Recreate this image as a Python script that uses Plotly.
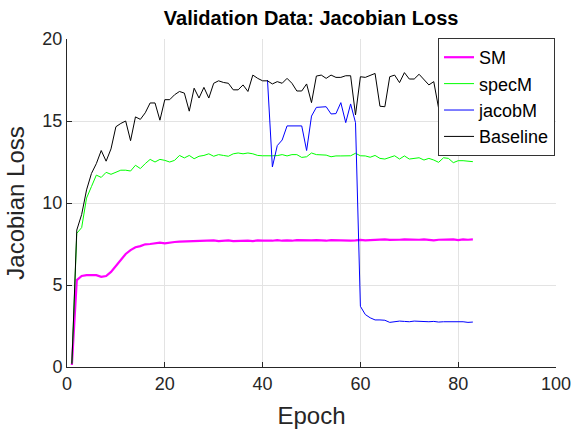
import plotly.graph_objects as go

# Jacobian loss per epoch
sm_loss = [
    0.12, 5.3, 5.55, 5.6, 5.6, 5.6, 5.5, 5.55, 5.8, 6.16,
    6.52, 6.89, 7.13, 7.3, 7.37, 7.48, 7.5, 7.54, 7.58, 7.54,
    7.6, 7.62, 7.65, 7.66, 7.66, 7.68, 7.66, 7.7, 7.68, 7.72,
    7.68, 7.7, 7.72, 7.68, 7.7, 7.72, 7.7, 7.68, 7.72, 7.7,
    7.68, 7.7, 7.74, 7.7, 7.72, 7.7, 7.74, 7.72, 7.7, 7.72,
    7.74, 7.72, 7.7, 7.74, 7.72, 7.74, 7.72, 7.7, 7.72, 7.75,
    7.72, 7.74, 7.72, 7.74, 7.78, 7.75, 7.74, 7.76, 7.78, 7.76,
    7.74, 7.76, 7.78, 7.76, 7.72, 7.76, 7.78, 7.76, 7.78, 7.74,
    7.78, 7.76, 7.78,
]
specm_loss = [
    0.2, 8.15, 8.5, 10.3, 11.0, 11.7, 11.56, 11.87, 11.75, 11.87,
    12.0, 12.0, 11.95, 12.3, 12.1, 12.4, 12.66, 12.5, 12.66, 12.6,
    12.5, 12.6, 12.9, 12.75, 12.9, 12.7, 12.85, 12.9, 13.0, 12.85,
    12.95, 12.9, 12.85, 13.0, 13.05, 13.0, 13.05, 13.0, 12.9, 12.88,
    12.9, 12.88, 12.89, 12.95, 12.87, 12.95, 12.95, 12.78, 12.82, 13.05,
    12.95, 12.92, 12.92, 12.82, 12.87, 12.87, 12.88, 12.88, 13.03, 12.88,
    12.87, 12.79, 12.9, 12.72, 12.68, 12.79, 12.88, 12.68, 12.87, 12.68,
    12.7, 12.76, 12.62, 12.72, 12.62, 12.48, 12.76, 12.72, 12.46, 12.58,
    12.58, 12.56, 12.52,
]
jacobm_start = 41
jacobm_loss = [
    17.5, 12.2, 13.5, 13.84, 14.7, 14.7, 14.7, 14.7, 13.2, 15.3,
    15.83, 15.87, 15.87, 15.43, 15.45, 16.12, 14.9, 16.04, 14.9, 3.7,
    3.2, 3.0, 2.87, 2.87, 2.85, 2.72, 2.78, 2.8, 2.78, 2.76,
    2.8, 2.78, 2.76, 2.76, 2.78, 2.74, 2.76, 2.76, 2.74, 2.78,
    2.76, 2.72, 2.74,
]
baseline_loss = [
    0.2, 8.35, 9.3, 10.8, 11.8, 12.4, 13.2, 12.55, 13.3, 14.65,
    14.85, 15.0, 13.8, 15.25, 15.1, 15.5, 16.1, 16.1, 15.05, 16.3,
    16.3, 16.6, 16.8, 16.7, 15.6, 17.0, 16.4, 17.05, 16.4, 17.3,
    17.45, 17.35, 17.3, 16.9, 16.9, 17.2, 16.8, 17.8, 17.6, 17.45,
    17.45, 17.26, 17.4, 17.3, 17.6, 17.3, 16.83, 16.83, 17.26, 16.12,
    17.74, 17.8, 17.6, 17.8, 17.66, 17.66, 17.76, 17.76, 15.37, 17.7,
    17.66, 17.8, 17.9, 15.9, 15.87, 17.7, 17.8, 17.34, 17.95, 17.56,
    17.56, 17.85, 17.54, 17.2, 17.4, 15.77, 16.3, 16.4, 16.9, 17.2,
    16.8, 17.1, 17.0,
]

epochs = list(range(1, len(sm_loss) + 1))
jacobm_epochs = list(range(jacobm_start, jacobm_start + len(jacobm_loss)))

x_ticks = [0, 20, 40, 60, 80, 100]
y_ticks = [0, 5, 10, 15, 20]

AXIS = "#262626"
GRID = "#e3e3e3"
FONT = "Liberation Sans, Arial, sans-serif"

fig = go.Figure()
fig.add_trace(go.Scatter(x=epochs, y=sm_loss, mode="lines", name="SM",
                         line=dict(color="#ff00ff", width=2.2)))
fig.add_trace(go.Scatter(x=epochs, y=specm_loss, mode="lines", name="specM",
                         line=dict(color="#00ff00", width=1)))
fig.add_trace(go.Scatter(x=jacobm_epochs, y=jacobm_loss, mode="lines", name="jacobM",
                         line=dict(color="#0000ff", width=1)))
fig.add_trace(go.Scatter(x=epochs, y=baseline_loss, mode="lines", name="Baseline",
                         line=dict(color="#000000", width=1)))

fig.update_layout(
    width=573, height=436,
    template=None,
    paper_bgcolor="#ffffff",
    plot_bgcolor="#ffffff",
    margin=dict(l=67, r=17, t=39, b=69),
    font=dict(family=FONT, color=AXIS, size=18),
    title=dict(text="<b>Validation Data: Jacobian Loss</b>", x=0.543, xanchor="center",
               y=0.959, yanchor="middle", yref="container",
               font=dict(size=20, color="#000000")),
    legend=dict(x=0.998, xanchor="right", y=1.003, yanchor="top",
                bgcolor="#ffffff", bordercolor="#333333", borderwidth=1,
                font=dict(size=18, color="#000000"), itemwidth=30,
                tracegroupgap=0),
    showlegend=True,
)
fig.update_xaxes(
    range=[0, 100], tickvals=x_ticks, showgrid=True, gridcolor=GRID, gridwidth=1,
    zeroline=False, showline=True, linecolor=AXIS, linewidth=1,
    ticks="inside", ticklen=5, tickcolor=AXIS, automargin=False,
    ticklabeloverflow="allow",
    title=dict(text="Epoch", font=dict(size=24, color=AXIS), standoff=14),
)
fig.update_yaxes(
    range=[0, 20], tickvals=y_ticks, showgrid=True, gridcolor=GRID, gridwidth=1,
    zeroline=False, showline=True, linecolor=AXIS, linewidth=1,
    ticks="inside", ticklen=5, tickcolor=AXIS, automargin=False,
    ticklabeloverflow="allow",
    title=dict(text="Jacobian Loss", font=dict(size=24, color=AXIS), standoff=10),
)

# drop the default body margin so the figure fills the window exactly
fig.write_html("out.html", config={"displayModeBar": False},
               post_script="document.body.style.margin='0';")
